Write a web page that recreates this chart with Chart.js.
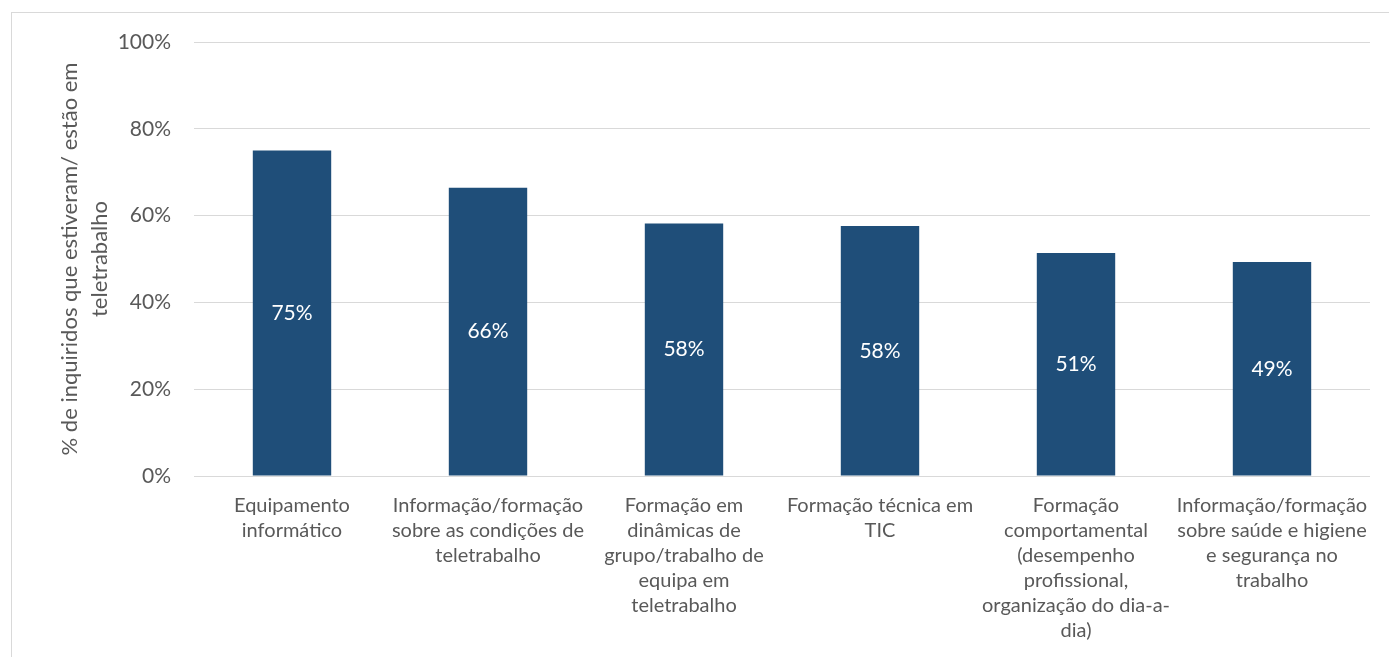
<!DOCTYPE html>
<html>
<head>
<meta charset="utf-8">
<script src="https://cdn.jsdelivr.net/npm/chart.js@4/dist/chart.umd.min.js"></script>
<style>
  html,body{margin:0;padding:0;background:#fff;}
  #wrap{position:relative;width:1389px;height:657px;overflow:hidden;}
  #frame{position:absolute;left:11px;top:12px;width:1420px;height:700px;border:1px solid #d9d9d9;box-sizing:border-box;}
  canvas{position:absolute;left:0;top:0;}
</style>
</head>
<body>
<div id="wrap">
  <div id="frame"></div>
  <canvas id="c" width="1389" height="657"></canvas>
</div>
<script>
const categories = [
  ["Equipamento", "informático"],
  ["Informação/formação", "sobre as condições de", "teletrabalho"],
  ["Formação em", "dinâmicas de", "grupo/trabalho de", "equipa em", "teletrabalho"],
  ["Formação técnica em", "TIC"],
  ["Formação", "comportamental", "(desempenho", "profissional,", "organização do dia-a-", "dia)"],
  ["Informação/formação", "sobre saúde e higiene", "e segurança no", "trabalho"]
];
const values = [75.0, 66.4, 58.2, 57.6, 51.4, 49.3];
const yTitle = ["% de inquiridos que estiveram/ estão em", "teletrabalho"];

const FONT = "Lato, 'Open Sans', sans-serif";
const TXT = "#595959";

const barLabels = {
  id: 'barLabels',
  afterDatasetsDraw(chart) {
    const ctx = chart.ctx;
    const meta = chart.getDatasetMeta(0);
    ctx.save();
    ctx.fillStyle = '#ffffff';
    ctx.font = "21px " + FONT;
    ctx.textAlign = 'center';
    ctx.textBaseline = 'middle';
    meta.data.forEach((el, i) => {
      const v = chart.data.datasets[0].data[i];
      ctx.fillText(Math.round(v) + '%', el.x, (el.y + el.base) / 2);
    });
    ctx.restore();
  }
};

new Chart(document.getElementById('c'), {
  type: 'bar',
  data: {
    labels: categories,
    datasets: [{
      data: values,
      backgroundColor: '#1f4e79',
      borderWidth: 0,
      barPercentage: 0.4,
      categoryPercentage: 1.0
    }]
  },
  options: {
    responsive: false,
    animation: false,
    devicePixelRatio: 1,
    layout: { padding: { left: 12, right: 19, top: 42, bottom: 0 } },
    plugins: { legend: { display: false }, tooltip: { enabled: false } },
    scales: {
      x: {
        grid: { display: false, drawTicks: false },
        border: { display: false },
        ticks: {
          color: TXT,
          font: { family: FONT, size: 20, lineHeight: '25px' },
          padding: 17,
          maxRotation: 0,
          autoSkip: false
        },
        afterFit(s) { s.height = 181; }
      },
      y: {
        min: 0, max: 100,
        grid: { color: '#d9d9d9', lineWidth: 1, drawTicks: false },
        border: { display: false },
        ticks: {
          stepSize: 20,
          color: TXT,
          font: { family: FONT, size: 21 },
          padding: 23,
          callback: v => v + '%'
        },
        title: {
          display: true,
          text: yTitle,
          color: TXT,
          font: { family: FONT, size: 22, lineHeight: '30px' },
          padding: { top: 43, bottom: 0 }
        },
        afterFit(s) { s.width = 182; }
      }
    }
  },
  plugins: [barLabels]
});
</script>
</body>
</html>
